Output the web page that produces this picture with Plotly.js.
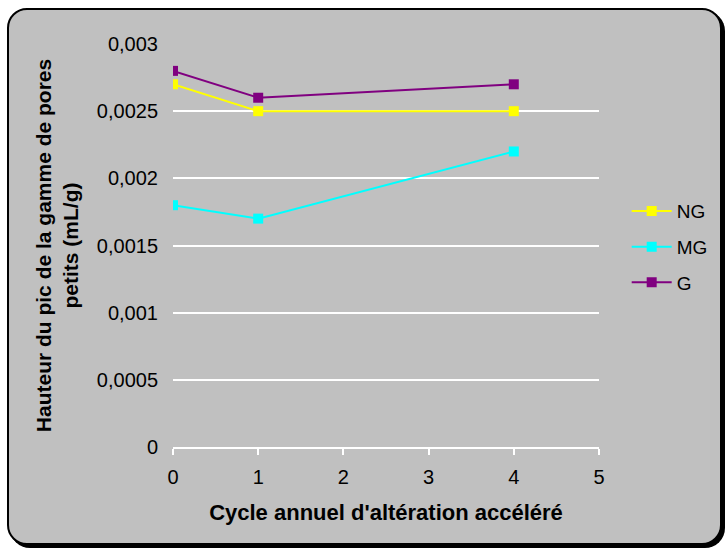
<!DOCTYPE html>
<html><head><meta charset="utf-8">
<script src="https://cdn.plot.ly/plotly-3.0.1.min.js"></script>
<style>
body{margin:0;background:#fff;}
#bg{position:absolute;left:7px;top:8px;width:711px;height:533px;border:2px solid #000;border-radius:20px;background:#C0C0C0;box-shadow:3px 3px 0 #000;}
#chart{position:absolute;left:0;top:0;width:727px;height:549px;}
</style></head>
<body>
<div id="bg"></div>
<div id="chart"></div>
<script>
const cycles = [0, 1, 4];
const NG = [0.0027, 0.0025, 0.0025];
const MG = [0.0018, 0.0017, 0.0022];
const G = [0.0028, 0.0026, 0.0027];
const names = ['NG', 'MG', 'G'];
const colors = ['#FFFF00', '#00FFFF', '#800080'];
const series = [NG, MG, G];
const traces = series.map((s, i) => ({
  x: cycles, y: s, name: names[i], legendgroup: names[i], type: 'scatter', mode: 'lines+markers',
  line: {color: colors[i], width: 2},
  marker: {symbol: 'square', size: 10, color: colors[i]}
}));
const layout = {
  width: 727, height: 549,
  paper_bgcolor: 'rgba(0,0,0,0)', plot_bgcolor: 'rgba(0,0,0,0)',
  separators: ', ',
  margin: {l: 173, r: 128, t: 44, b: 102},
  font: {family: 'Liberation Sans, Arial, sans-serif', size: 20, color: '#000'},
  xaxis: {
    range: [0, 5], dtick: 1, tick0: 0, showgrid: false, zeroline: false,
    showline: true, linecolor: '#FFFFFF', linewidth: 2,
    ticks: 'outside', tickcolor: '#FFFFFF', ticklen: 6, tickwidth: 2,
    tickfont: {size: 20}, ticklabelstandoff: 5,
    title: {text: "<b>Cycle annuel d'altération accéléré</b>", font: {size: 22}, standoff: 18}
  },
  yaxis: {
    range: [0, 0.003], dtick: 0.0005, tick0: 0, tickformat: '~g',
    showgrid: true, gridcolor: '#FFFFFF', gridwidth: 1.5, zeroline: false,
    showline: false, ticks: '', ticklabelstandoff: 14,
    tickfont: {size: 20},
    title: {text: '<b>Hauteur du pic de la gamme de pores<br>petits (mL/g)</b>', font: {size: 21}, standoff: 12}
  },
  legend: {x: 1.065, xanchor: 'left', y: 0.496, yanchor: 'middle', font: {size: 19},
    bgcolor: 'rgba(0,0,0,0)', traceorder: 'grouped', tracegroupgap: 8, itemwidth: 40},
  showlegend: true
};
Plotly.newPlot('chart', traces, layout, {displayModeBar: false});
</script>
</body></html>
